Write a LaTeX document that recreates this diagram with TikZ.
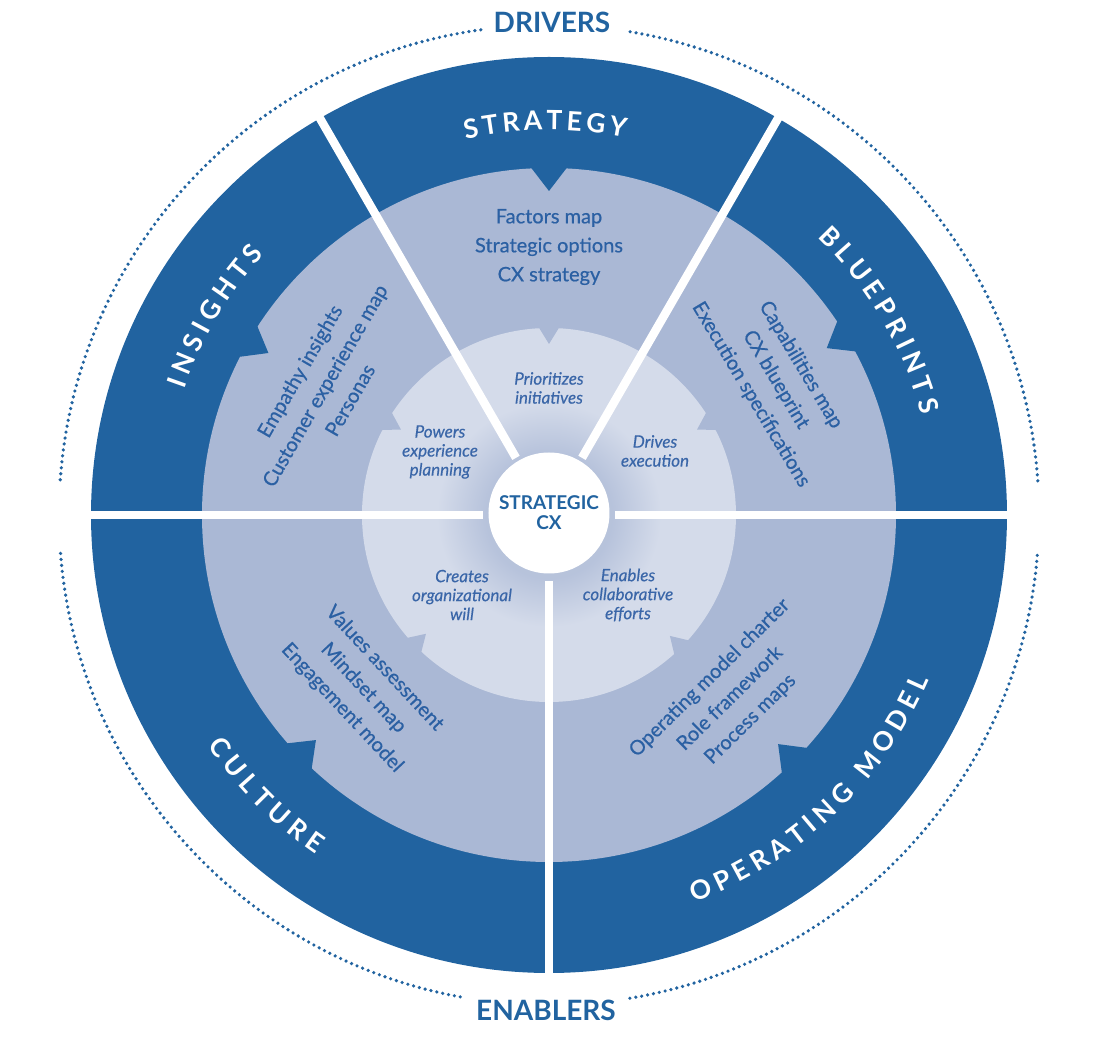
\documentclass[tikz,border=0pt]{standalone}
\usepackage{fontspec}
\setmainfont{Lato}
\usetikzlibrary{decorations.text}
\definecolor{ringblue}{HTML}{2163A0}
\definecolor{midblue}{HTML}{AAB8D5}
\definecolor{paleblue}{HTML}{D4DBEA}
\definecolor{itemblue}{HTML}{2B60A3}
\definecolor{cueblue}{HTML}{3A66A8}
\colorlet{glowblue}{midblue!70!paleblue}
\pgfdeclareradialshading{hubglow}{\pgfpoint{0bp}{0bp}}{color(0bp)=(glowblue); color(14bp)=(glowblue); color(25bp)=(paleblue); color(50bp)=(paleblue)}
\newcommand\ringfont{\fontsize{26.5}{30}\selectfont\bfseries\color{white}}

\begin{document}
\begin{tikzpicture}[x=1pt, y=1pt,
  item/.style={text=itemblue, font=\fontsize{20}{29}\selectfont\addfontfeature{FakeBold=0.6}, align=center},
  cue/.style={text=cueblue, font=\fontsize{17}{19}\selectfont\itshape\addfontfeature{FakeBold=0.4}, align=center},
  sep/.style={white, line width=8.5pt},
  dots/.style={ringblue, line width=3.6pt, line cap=round, dash pattern=on 0pt off 6pt},
  pole/.style={text=ringblue, font=\fontsize{28}{30}\selectfont\bfseries},
  ringlabel/.style={decorate, decoration={text along path, text={|\ringfont|#1}, text align={fit to path}}}
]
  \useasboundingbox (-549,-523) rectangle (557,515);
  \coordinate (c) at (0,0);

  % rings and notches
  \fill[ringblue] (c) circle (458);
  \fill[midblue] (c) circle (347);
  \foreach \a in {150,90,31,224,-45}
    \fill[ringblue] (\a-3.2:350) -- (\a:324) -- (\a+3.2:350) -- cycle;
  \fill[paleblue] (c) circle (187);
  \foreach \a in {150,90,30,224,-45}
    \fill[midblue] (\a-3.3:189) -- (\a:171) -- (\a+3.3:189) -- cycle;
  \shade[shading=hubglow] (c) circle (112);

  % separators
  \foreach \a in {0,60,120,180,270}
    \draw[sep] (\a:66) -- (\a:459);
  \node[circle, fill=white, minimum size=121, inner sep=0pt, text=ringblue, font=\fontsize{19}{20}\selectfont\bfseries, align=center] (hub) at (0,2) {STRATEGIC\\CX};

  % ring labels
  \path[ringlabel=STRATEGY] (102.5:385) arc[start angle=102.5, end angle=78.6, radius=385];
  \path[ringlabel=INSIGHTS] (161:386) arc[start angle=161, end angle=137.5, radius=386];
  \path[ringlabel=BLUEPRINTS] (46:386) arc[start angle=46, end angle=15, radius=386];
  \path[ringlabel=CULTURE] (214:412) arc[start angle=214, end angle=235.5, radius=412];
  \path[ringlabel={OPERATING MODEL}] (-69.5:414) arc[start angle=-69.5, end angle=-23.5, radius=414];

  % tools
  \node[item] (factors) at (90:268) {Factors map\\Strategic options\\CX strategy};
  \node[item, rotate=60] (empathy) at (150:259) {Empathy insights\\Customer experience map\\Personas};
  \node[item, rotate=-59.2] (capabilities) at (30.8:264) {Capabilities map\\CX blueprint\\Execution specifications};
  \node[item, rotate=-47] (values) at (223:254) {Values assessment\\Mindset map\\Engagement model};
  \node[item, rotate=44.6] (charter) at (-45.4:258) {Operating model charter\\Role framework\\Process maps};

  % roles
  \node[cue] (prioritizes) at (0,127) {Prioritizes\\initiatives};
  \node[cue] (powers) at (-109,63) {Powers\\experience\\planning};
  \node[cue] (drives) at (106,64) {Drives\\execution};
  \node[cue] (creates) at (-87,-80) {Creates\\organizational\\will};
  \node[cue] (enables) at (79,-80) {Enables\\collaborative\\efforts};

  % drivers and enablers
  \draw[dots] (4:490) arc[start angle=4, end angle=81, radius=490];
  \draw[dots] (98:490) arc[start angle=98, end angle=176, radius=490];
  \draw[dots] (184.5:490) arc[start angle=184.5, end angle=260, radius=490];
  \draw[dots] (279.5:490) arc[start angle=279.5, end angle=355.5, radius=490];
  \node[pole] (drivers) at (3,493) {DRIVERS};
  \node[pole] (enablers) at (-3,-495) {ENABLERS};
\end{tikzpicture}
\end{document}
